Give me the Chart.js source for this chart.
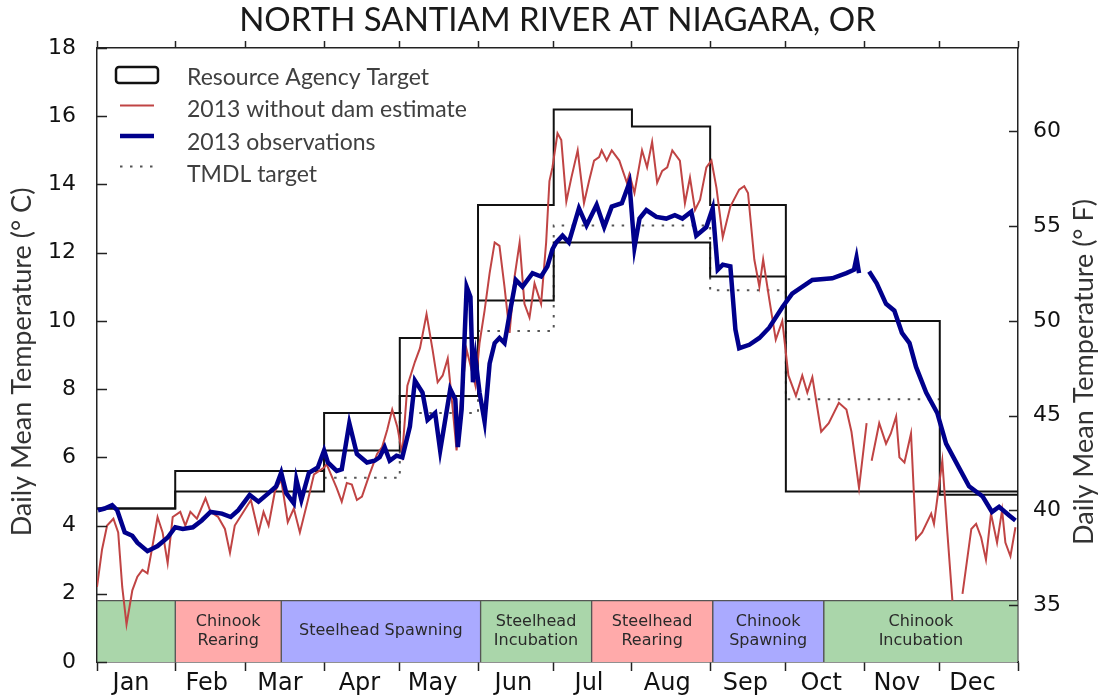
<!DOCTYPE html>
<html>
<head>
<meta charset="utf-8">
<script src="https://cdn.jsdelivr.net/npm/chart.js@4.4.1/dist/chart.umd.min.js"></script>
<style>
  body { margin: 0; background: #fff; }
  #wrap { width: 1105px; height: 700px; position: relative; }
</style>
</head>
<body>
<div id="wrap"><canvas id="chart"></canvas></div>
<script>
// ---- data (day of year, degrees C) ----
const monthNames = ["Jan", "Feb", "Mar", "Apr", "May", "Jun", "Jul", "Aug", "Sep", "Oct", "Nov", "Dec"];
const monthStarts = [0, 31, 59, 90, 120, 151, 181, 212, 243, 273, 304, 334, 365];
const monthLabelDays = [13.5, 43.5, 72.5, 104, 133, 165, 195, 226, 257, 287, 317, 347];
const fahrenheitTicks = [35, 40, 45, 50, 55, 60];

const targetDays  = [0, 31, 90, 120, 151, 181, 212, 243, 273, 334, 365];
const targetUpper = [4.5, 5.6, 7.3, 9.5, 13.4, 16.2, 15.7, 13.4, 10.0, 5.0, 5.0];
const targetLower = [4.5, 5.0, 6.2, 7.8, 10.6, 12.3, 12.3, 11.3, 5.0, 4.9, 4.9];

const tmdlDays  = [90, 120, 151, 181, 243, 273, 334];
const tmdlTemps = [5.4, 7.3, 9.7, 12.8, 10.9, 7.7, 7.7];

const estDays = [0, 2, 4, 6.5, 8.4, 10, 11.7, 14, 16, 18, 20, 22, 24, 26, 28, 30, 33, 35, 37, 39.6,
  43, 45, 48, 50.7, 52.7, 54.6, 58, 61, 64, 66, 68, 70.5, 73, 75.6, 78, 80.4, 83.6, 86, 90, 91,
  95, 97, 99, 101, 103, 105, 108, 111, 113, 115, 117, 119, 121, 123, 126, 128, 130.6, 133, 135, 137,
  139, 141, 142.5, 144.5, 146.5, 150, 151.6, 153.6, 155.6, 157.6, 159.5, 161.5, 163.5, 165.5, 167.5, 169.4, 171.4, 173.4, 176, 178,
  179.3, 180.5, 182.5, 184, 186, 188, 190.5, 193, 195, 197, 199, 200, 202, 204, 207, 210, 211, 213, 216, 218,
  220, 222, 224, 226, 228, 231, 233, 235, 237, 239, 241.5, 243.5, 245.5, 248, 251, 254.5, 256.5, 258, 260.5, 262.5,
  264, 266.5, 269, 271.6, 274, 277, 279.5, 281.5, 283.5, 287, 290, 294, 297, 299, 302, 305, 306, 307, 310, 312.7,
  314.6, 316.7, 318, 320, 322.6, 324.6, 327, 330.6, 331.7, 335, 337, 339, 341, 343, 346.5, 348.4, 350.4, 352.3, 354.3, 356.7,
  358.7, 360, 362, 364];
const estTemps = [2.2, 3.3, 4.0, 4.2, 3.8, 2.2, 1.1, 2.1, 2.5, 2.7, 2.6, 3.4, 4.25, 3.8, 2.9, 4.25, 4.4, 4.0, 4.4, 4.2,
  4.8, 4.4, 4.25, 3.9, 3.2, 4.0, 4.4, 4.75, 3.8, 4.4, 4.0, 5.0, 5.35, 4.1, 4.5, 3.8, 4.75, 5.5, 5.7, 5.8,
  5.1, 4.7, 5.25, 5.2, 4.75, 4.85, 5.5, 6.1, 6.3, 6.8, 7.4, 6.9, 6.1, 8.1, 8.8, 9.2, 10.2, 9.15, 8.2, 8.4,
  8.9, 7.4, 6.2, 7.9, 9.15, 8.1, 9.35, 10.3, 11.4, 12.3, 12.2, 11.0, 9.65, 11.3, 12.3, 10.5, 10.1, 11.1, 10.5, 12.3,
  14.1, 14.5, 15.5, 15.3, 13.5, 14.2, 15.0, 13.45, 14.1, 14.7, 14.8, 15.0, 14.7, 15.0, 14.7, 14.05, 14.3, 13.75, 15.0, 14.5,
  15.25, 14.05, 14.4, 14.5, 15.0, 14.7, 13.45, 14.2, 13.25, 13.55, 14.5, 14.7, 13.9, 12.45, 13.35, 13.85, 13.95, 13.75, 11.8, 11.0,
  11.8, 10.6, 9.45, 10.0, 8.4, 7.8, 8.4, 7.9, 8.35, 6.75, 7.0, 7.6, 7.4, 6.75, 5.1, 7.0, null, 5.9, 7.0, 6.4,
  6.7, 7.2, 6.0, 5.85, 6.7, 3.6, 3.8, 4.35, 4.05, 5.9, 3.8, 1.8, null, 2.0, 3.9, 4.05, 3.65, 3.0, 4.35, 3.5,
  4.45, 3.5, 3.1, 3.95];

const obsDays = [0.4, 3, 6, 8, 11, 14, 16, 20, 24, 28, 31, 34, 38, 41.5, 45, 49.5, 53, 56, 60.5, 64,
  68, 71, 73, 75, 78, 79, 81, 84, 87.5, 90, 91.5, 95, 97, 100, 103, 107, 110, 112, 114, 116,
  118.7, 121, 124, 126, 129, 131, 134, 136, 138, 140, 142, 143, 144.5, 146.5, 148, 149, 150, 151.6, 153.6, 155.6,
  157.6, 159.5, 161.5, 164, 166, 168.6, 172.6, 176, 178.5, 180.5, 182, 184.5, 187, 191, 194, 198, 201, 204, 208, 211,
  213, 215, 217.7, 221.7, 225.6, 229, 232, 235.5, 237.5, 241.5, 244, 246, 248, 251, 253, 254.5, 258.5, 262.5, 266.4, 271.6,
  275.5, 283.5, 291.4, 297, 300, 301, 302, 303.5, 306, 309, 312.7, 316, 319, 322, 324.6, 328.6, 333, 336.5, 341.6, 345.6,
  351, 354.7, 357.5, 361.4, 364];
const obsTemps = [4.45, 4.5, 4.6, 4.45, 3.8, 3.7, 3.5, 3.25, 3.4, 3.65, 3.95, 3.9, 3.95, 4.15, 4.4, 4.35, 4.25, 4.45, 4.9, 4.7,
  4.95, 5.15, 5.55, 4.95, 4.65, 5.35, 4.75, 5.55, 5.7, 6.2, 5.85, 5.6, 5.65, 7.0, 6.1, 5.85, 5.9, 6.0, 6.3, 5.9,
  6.05, 6.0, 6.9, 8.25, 7.9, 7.1, 7.3, 6.2, 7.1, 8.0, 7.7, 6.3, 7.4, 11.0, 10.7, 8.2, 8.9, 7.9, 7.05, 8.75,
  9.35, 9.5, 9.35, 10.4, 11.2, 11.0, 11.4, 11.3, 11.6, 12.1, 12.3, 12.5, 12.3, 13.3, 12.8, 13.4, 12.75, 13.35, 13.45, 14.05,
  12.15, 13.0, 13.25, 13.05, 13.0, 13.1, 13.0, 13.2, 12.5, 12.75, 13.3, 11.5, 11.65, 11.6, 9.75, 9.2, 9.3, 9.5, 9.8, 10.4,
  10.8, 11.2, 11.25, 11.4, 11.5, 11.85, 11.4, null, 11.45, 11.1, 10.5, 10.3, 9.65, 9.35, 8.65, 7.9, 7.3, 6.4, 5.7, 5.15,
  4.85, 4.4, 4.55, 4.3, 4.15];

const BAND_TOP = 1.8;
const bandStart = [0, 31, 73, 152, 196, 244, 288];
const bandEnd   = [31, 73, 152, 196, 244, 288, 365];
const bandNames = ["", "Chinook\nRearing", "Steelhead Spawning", "Steelhead\nIncubation",
  "Steelhead\nRearing", "Chinook\nSpawning", "Chinook\nIncubation"];
const bandColors = ["#aad6aa", "#ffaaaa", "#aaaaff", "#aad6aa", "#ffaaaa", "#aaaaff", "#aad6aa"];

// ---- helpers ----
const pts = (xs, ys) => xs.map((d, i) => ({ x: d, y: ys[i] }));
const TEXT = "#333";
const LABEL_FONT = "Lato";

Chart.defaults.font.family = "DejaVu Sans";
Chart.defaults.color = "#111";

const datasets = [
  { label: "2013 observations", data: pts(obsDays, obsTemps), borderColor: "#00008c",
    borderWidth: 4.5, pointRadius: 0, spanGaps: false },
  { label: "2013 without dam estimate", data: pts(estDays, estTemps), borderColor: "#c04444",
    borderWidth: 2, pointRadius: 0, spanGaps: false },
  { label: "Resource Agency Target", data: pts(targetDays, targetUpper), borderColor: "#111",
    borderWidth: 2, pointRadius: 0, stepped: true },
  { label: "target lower", data: pts(targetDays, targetLower), borderColor: "#111",
    borderWidth: 2, pointRadius: 0, stepped: true },
  { label: "TMDL target", data: pts(tmdlDays, tmdlTemps), borderColor: "#555",
    borderWidth: 2, borderDash: [2.5, 7.5], pointRadius: 0, stepped: true }
];
bandStart.forEach((s, i) => {
  datasets.push({
    label: "band " + i,
    data: [{ x: s, y: 0 }, { x: s, y: BAND_TOP }, { x: bandEnd[i], y: BAND_TOP }, { x: bandEnd[i], y: 0 }],
    borderColor: "#555", borderWidth: 1.2, backgroundColor: bandColors[i],
    fill: "origin", pointRadius: 0
  });
});

const decorations = {
  id: "decorations",
  afterDatasetsDraw(chart) {
    const { ctx, chartArea: a, scales } = chart;
    const x = scales.x, y = scales.y, yF = scales.yF;
    ctx.save();
    // period labels inside the bands
    ctx.font = '16px "DejaVu Sans"';
    ctx.fillStyle = "#2a2a2a";
    ctx.textAlign = "center";
    ctx.textBaseline = "middle";
    const yMid = (y.getPixelForValue(0) + y.getPixelForValue(BAND_TOP)) / 2;
    bandNames.forEach((name, i) => {
      if (!name) return;
      const cx = (x.getPixelForValue(bandStart[i]) + x.getPixelForValue(bandEnd[i])) / 2;
      const lines = name.split("\n");
      lines.forEach((t, j) => ctx.fillText(t, cx, yMid + (j - (lines.length - 1) / 2) * 19));
    });
    // inward ticks on both y axes
    ctx.strokeStyle = "#222";
    ctx.lineWidth = 1.5;
    ctx.beginPath();
    y.ticks.forEach(t => {
      const py = Math.round(y.getPixelForValue(t.value)) + 0.5;
      ctx.moveTo(a.left, py); ctx.lineTo(a.left + 10, py);
    });
    yF.ticks.forEach(t => {
      const py = Math.round(yF.getPixelForValue(t.value)) + 0.5;
      ctx.moveTo(a.right, py); ctx.lineTo(a.right - 9, py);
    });
    ctx.stroke();
    ctx.restore();
  },
  afterDraw(chart) {
    const { ctx } = chart;
    const ds = chart.data.datasets;
    ctx.save();
    // axis titles, both reading bottom to top
    ctx.font = "27px " + LABEL_FONT;
    ctx.fillStyle = TEXT;
    ctx.textAlign = "center";
    ctx.textBaseline = "middle";
    [[22, 362, "Daily Mean Temperature (° C)"], [1084, 372, "Daily Mean Temperature (° F)"]].forEach(([tx, ty, t]) => {
      ctx.save();
      ctx.translate(tx, ty);
      ctx.rotate(-Math.PI / 2);
      ctx.fillText(t, 0, 0);
      ctx.restore();
    });
    // legend
    const rows = [ds[2], ds[1], ds[0], ds[4]];
    ctx.font = "23px " + LABEL_FONT;
    ctx.textAlign = "left";
    ctx.textBaseline = "alphabetic";
    rows.forEach((d, i) => {
      const sy = 75 + i * 30.5;
      ctx.strokeStyle = d.borderColor;
      ctx.lineWidth = d.borderWidth;
      ctx.setLineDash(d.borderDash || []);
      ctx.beginPath();
      if (i === 0) {
        ctx.lineWidth = 2.5;
        ctx.roundRect(116, sy - 8, 42, 16, 3);
      } else {
        ctx.moveTo(120, sy); ctx.lineTo(154, sy);
      }
      ctx.stroke();
      ctx.setLineDash([]);
      ctx.fillStyle = "#404040";
      ctx.fillText(d.label, 187, 85 + i * 32.3);
    });
    ctx.restore();
  }
};

new Chart(document.getElementById("chart"), {
  type: "line",
  data: { datasets },
  plugins: [decorations],
  options: {
    responsive: true,
    maintainAspectRatio: false,
    animation: false,
    layout: { padding: 0 },
    plugins: { legend: { display: false }, tooltip: { enabled: false } },
    scales: {
      x: {
        type: "linear", position: "bottom", min: 0, max: 365,
        afterBuildTicks: s => {
          s.ticks = monthStarts.concat(monthLabelDays).sort((p, q) => p - q).map(v => ({ value: v }));
        },
        afterFit: s => { s.height = 38; },
        grid: {
          display: true, drawOnChartArea: false, drawTicks: true, tickLength: 9, tickWidth: 1.5,
          tickColor: c => monthStarts.includes(c.tick && c.tick.value) ? "#222" : "rgba(0,0,0,0)"
        },
        border: { display: true, color: "#222", width: 1.5 },
        ticks: {
          autoSkip: false, maxRotation: 0, padding: -2, color: "#111",
          font: { size: 24 },
          callback: v => { const i = monthLabelDays.indexOf(v); return i >= 0 ? monthNames[i] : ""; }
        }
      },
      xTop: {
        type: "linear", position: "top", min: 0, max: 365,
        afterBuildTicks: s => { s.ticks = monthStarts.map(v => ({ value: v })); },
        afterFit: s => { s.height = 48; },
        grid: { display: true, drawOnChartArea: false, drawTicks: true, tickLength: 7, tickWidth: 1.5, color: "#222" },
        border: { display: true, color: "#222", width: 1.5 },
        ticks: { display: false },
        title: {
          display: true, text: "NORTH SANTIAM RIVER AT NIAGARA, OR", color: "#1a1a1a",
          font: { family: LABEL_FONT, size: 33 }, padding: { top: 1, bottom: 0 }
        }
      },
      y: {
        type: "linear", position: "left", min: 0, max: 18,
        afterFit: s => { s.width = 97; },
        grid: { display: false },
        border: { display: true, color: "#222", width: 1.5 },
        ticks: { stepSize: 2, padding: 13, color: "#111", font: { size: 22 } }
      },
      yF: {
        type: "linear", position: "right", min: 32, max: 32 + 18 * 1.8,
        afterBuildTicks: s => { s.ticks = fahrenheitTicks.map(v => ({ value: v })); },
        afterFit: s => { s.width = 87; },
        grid: { display: false },
        border: { display: true, color: "#222", width: 1.5 },
        ticks: { padding: 7, color: "#111", font: { size: 22 } }
      }
    }
  }
});
</script>
</body>
</html>
